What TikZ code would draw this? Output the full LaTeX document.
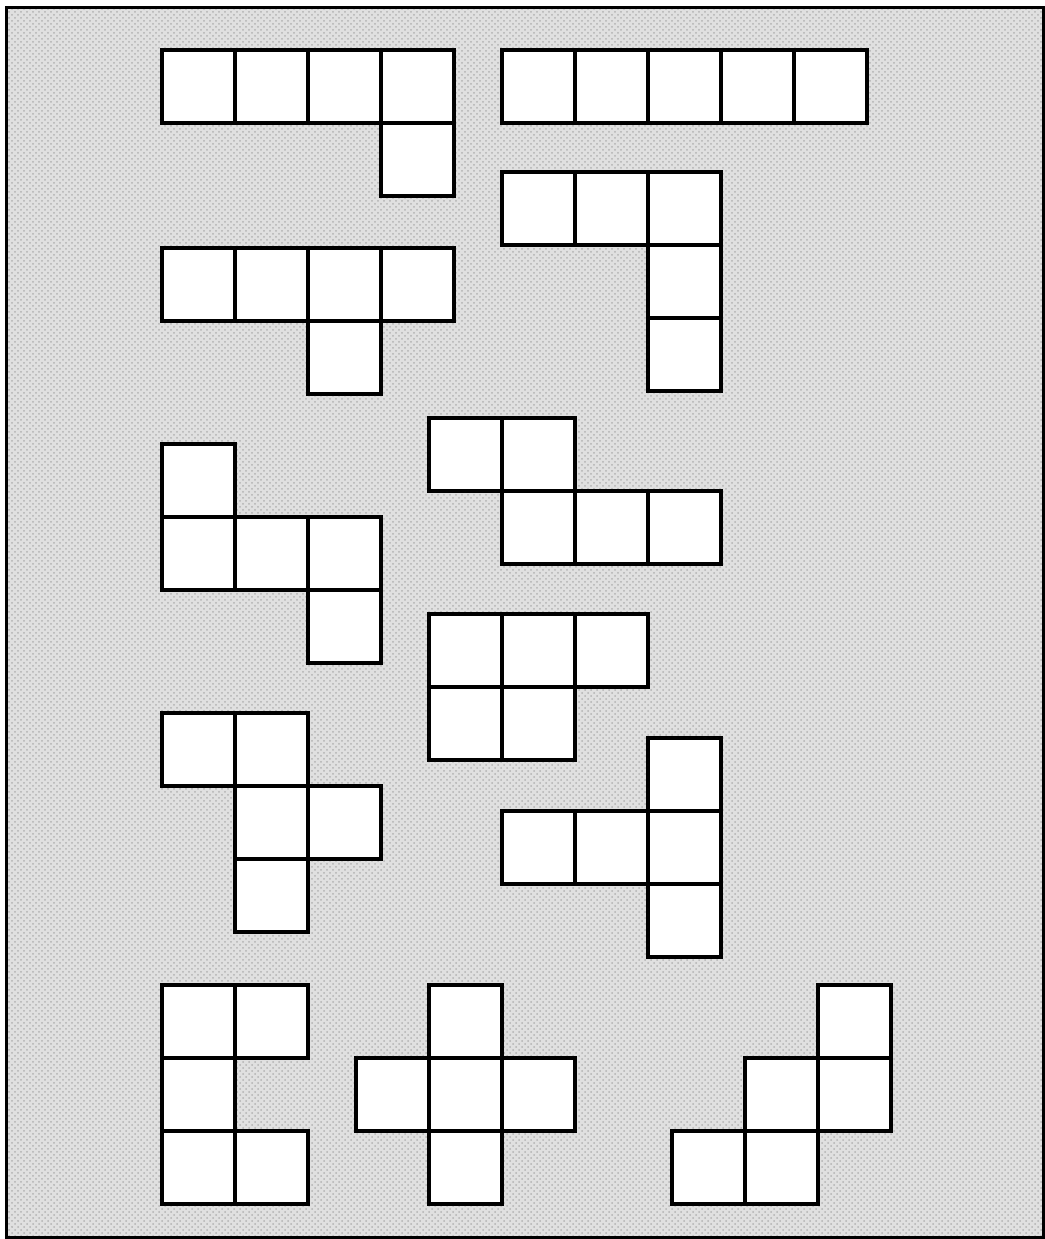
\documentclass[tikz,border=0pt]{standalone}
\usetikzlibrary{patterns}
\begin{document}
\begin{tikzpicture}[x=0.5pt,y=-0.5pt,
  cell/.style={draw=black,fill=white,line width=2.2pt,line join=miter},
  frame/.style={draw=black,line width=1.5pt},
  ground/.style={fill=black!12}]
\useasboundingbox (0,0) rectangle (1045,1239);
\fill[white] (0,0) rectangle (1045,1239);
\fill[ground] (6,7) rectangle (1043,1237);
\fill[pattern=crosshatch dots,pattern color=black!30] (6,7) rectangle (1043,1237);
\draw[frame] (6,7) rectangle (1043,1237);
% twelve pentominoes, each cell given by its top-left corner (px)
\foreach \x/\y in {
  162/50,235/50,308/50,381/50,381/123,        % L
  502/50,575/50,648/50,721/50,794/50,         % I
  502/172,575/172,648/172,648/245,648/318,    % V
  162/248,235/248,308/248,381/248,308/321,    % Y
  162/444,162/517,235/517,308/517,308/590,    % Z
  429/418,502/418,502/491,575/491,648/491,    % N
  429/614,502/614,575/614,429/687,502/687,    % P
  162/713,235/713,235/786,308/786,235/859,    % F
  648/738,502/811,575/811,648/811,648/884,    % T
  162/985,235/985,162/1058,162/1131,235/1131, % U
  429/985,356/1058,429/1058,502/1058,429/1131,% X
  818/985,745/1058,818/1058,672/1131,745/1131 % W
}{
  \draw[cell] (\x,\y) rectangle ++(73,73);
}
\end{tikzpicture}
\end{document}
